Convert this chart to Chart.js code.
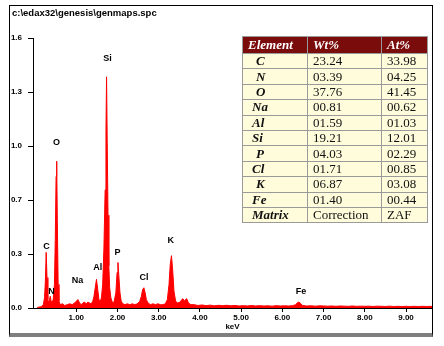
<!DOCTYPE html>
<html>
<head>
<meta charset="utf-8">
<script src="https://cdn.jsdelivr.net/npm/chart.js@4/dist/chart.umd.min.js"></script>
<style>
  html, body { margin: 0; padding: 0; background: #fff; }
  #wrap { position: relative; width: 444px; height: 346px; overflow: hidden; }
  #spectrum { position: absolute; left: 0; top: 0; }
  #frame {
    position: absolute; left: 9px; top: 5px; width: 422px; height: 327px;
    border-left: 1px solid #000; border-top: 1px solid #000; border-right: 1px solid #000;
    border-bottom: 4px solid #7f7f7f; pointer-events: none;
  }
  #fileName {
    position: absolute; left: 12px; top: 7px;
    font: bold 9.5px "Liberation Sans", Arial, sans-serif; color: #000; line-height: 12px;
  }
  #quant {
    position: absolute; left: 242px; top: 36px; width: 185px;
    border-collapse: collapse; table-layout: fixed;
    font: 13px "Liberation Serif", "Times New Roman", serif; color: #111;
    background: #fffcdc; border: 1px solid #8a8a8a;
  }
  #quant td, #quant th { border: 1px solid #9a9a9a; padding: 0 0 0 5px; text-align: left; line-height: 14px; white-space: nowrap; overflow: hidden; }
  #quant th { background: #7a0c0c; color: #fff; font-weight: bold; font-style: italic; height: 16px; }
  #quant td { height: 14.4px; }
  #quant td.el { font-weight: bold; font-style: italic; padding-left: 9px; }
  #quant td.el.one { padding-left: 13px; }
</style>
</head>
<body>
<div id="wrap">
  <canvas id="spectrum" width="444" height="346"></canvas>
  <div id="frame"></div>
  <div id="fileName">c:\edax32\genesis\genmaps.spc</div>
  <table id="quant">
    <colgroup><col style="width:65px"><col style="width:74px"><col style="width:46px"></colgroup>
    <thead><tr><th>Element</th><th>Wt%</th><th>At%</th></tr></thead>
    <tbody id="quantBody"></tbody>
  </table>
</div>
<script>
// === Spectrum (keV vs counts) ===
const energy = [
  0.05, 0.15, 0.20, 0.23, 0.25, 0.27, 0.29, 0.31, 0.33, 0.35, 0.37, 0.39, 0.41,
  0.44, 0.47, 0.49, 0.51, 0.525, 0.54, 0.56, 0.58, 0.61, 0.66, 0.72, 0.78, 0.84, 0.90, 0.96,
  1.00, 1.04, 1.08, 1.12, 1.16, 1.20, 1.24, 1.28, 1.32, 1.36, 1.40, 1.43, 1.46, 1.49, 1.52, 1.55, 1.58,
  1.61, 1.64, 1.67, 1.70, 1.72, 1.735, 1.75, 1.77, 1.79, 1.81, 1.84, 1.88, 1.92,
  1.96, 1.99, 2.01, 2.03, 2.06, 2.09, 2.13, 2.18, 2.24, 2.30, 2.36, 2.42, 2.48,
  2.54, 2.58, 2.61, 2.64, 2.67, 2.70, 2.74, 2.80, 2.86, 2.92, 2.98, 3.04, 3.10, 3.16,
  3.21, 3.25, 3.28, 3.31, 3.34, 3.37, 3.41, 3.46, 3.52, 3.56, 3.59, 3.62, 3.65, 3.68, 3.72, 3.78, 3.86,
  3.95, 4.05, 4.15, 4.25, 4.35, 4.45, 4.55, 4.65, 4.75, 4.85, 4.95, 5.05, 5.15, 5.25, 5.35, 5.45,
  5.55, 5.65, 5.75, 5.85, 5.95, 6.05, 6.15, 6.25, 6.32, 6.37, 6.40, 6.44, 6.49, 6.58, 6.70, 6.80, 6.90,
  7.00, 7.10, 7.20, 7.30, 7.40, 7.50, 7.60, 7.70, 7.80, 7.90, 8.00, 8.10, 8.20, 8.30, 8.40, 8.50,
  8.60, 8.70, 8.80, 8.90, 9.00, 9.10, 9.20, 9.30, 9.40, 9.50, 9.60, 9.63
];
const counts = [
  0.003, 0.008, 0.02, 0.06, 0.16, 0.33, 0.18, 0.05, 0.03, 0.05, 0.07, 0.04, 0.03,
  0.05, 0.14, 0.40, 0.78, 0.87, 0.52, 0.14, 0.04, 0.02, 0.025, 0.015, 0.02, 0.025, 0.02, 0.03,
  0.04, 0.05, 0.03, 0.02, 0.03, 0.035, 0.025, 0.035, 0.03, 0.025, 0.04, 0.07, 0.12, 0.17, 0.11, 0.05, 0.04,
  0.06, 0.14, 0.35, 0.70, 1.05, 1.37, 1.00, 0.55, 0.25, 0.12, 0.06, 0.03, 0.04,
  0.09, 0.21, 0.27, 0.20, 0.09, 0.04, 0.025, 0.02, 0.025, 0.02, 0.025, 0.02, 0.025,
  0.04, 0.07, 0.11, 0.12, 0.09, 0.05, 0.03, 0.02, 0.025, 0.02, 0.025, 0.02, 0.02, 0.025,
  0.05, 0.14, 0.26, 0.31, 0.22, 0.10, 0.04, 0.03, 0.035, 0.05, 0.055, 0.04, 0.05, 0.055, 0.03, 0.02, 0.02,
  0.015, 0.018, 0.014, 0.017, 0.013, 0.016, 0.014, 0.016, 0.013, 0.015, 0.012, 0.014, 0.012, 0.015, 0.012, 0.014,
  0.012, 0.013, 0.011, 0.014, 0.012, 0.013, 0.012, 0.014, 0.02, 0.032, 0.035, 0.028, 0.015, 0.012, 0.013, 0.011, 0.013,
  0.012, 0.011, 0.012, 0.010, 0.012, 0.011, 0.010, 0.012, 0.010, 0.011, 0.010, 0.011, 0.009, 0.011, 0.010, 0.009,
  0.011, 0.009, 0.010, 0.009, 0.010, 0.009, 0.010, 0.009, 0.010, 0.009, 0.010, 0.009
];

// === Peak labels ===
const peakNames  = ["C", "N", "O", "Na", "Al", "Si", "P", "Cl", "K", "Fe"];
const peakEnergy = [0.28, 0.40, 0.52, 1.03, 1.52, 1.76, 2.00, 2.64, 3.29, 6.45];
const peakLabelLevel = [0.367, 0.10, 0.978, 0.16, 0.237, 1.48, 0.326, 0.178, 0.397, 0.095];

// === Axes ===
const yTickValues = [0, 0.32, 0.64, 0.96, 1.28, 1.6];
const yTickLabels = ["0.0", "0.3", "0.7", "1.0", "1.3", "1.6"];
const xTickValues = [1, 2, 3, 4, 5, 6, 7, 8, 9];
const xTickLabels = ["1.00", "2.00", "3.00", "4.00", "5.00", "6.00", "7.00", "8.00", "9.00"];

// === Quantification table ===
const elements = ["C", "N", "O", "Na", "Al", "Si", "P", "Cl", "K", "Fe", "Matrix"];
const wtPct = ["23.24", "03.39", "37.76", "00.81", "01.59", "19.21", "04.03", "01.71", "06.87", "01.40", "Correction"];
const atPct = ["33.98", "04.25", "41.45", "00.62", "01.03", "12.01", "02.29", "00.85", "03.08", "00.44", "ZAF"];

const tbody = document.getElementById("quantBody");
elements.forEach((el, i) => {
  const cls = el.length === 1 ? "el one" : "el";
  tbody.innerHTML += `<tr><td class="${cls}">${el}</td><td>${wtPct[i]}</td><td>${atPct[i]}</td></tr>`;
});

const tickFont = { family: "'Liberation Sans', Arial, sans-serif", size: 8, weight: "bold" };

const peakLabels = {
  id: "peakLabels",
  afterDatasetsDraw(chart) {
    const { ctx, scales: { x, y } } = chart;
    ctx.save();
    ctx.fillStyle = "#000";
    ctx.font = "bold 9px 'Liberation Sans', Arial, sans-serif";
    ctx.textAlign = "center";
    ctx.textBaseline = "middle";
    peakNames.forEach((name, i) => {
      ctx.fillText(name, x.getPixelForValue(peakEnergy[i]), y.getPixelForValue(peakLabelLevel[i]));
    });
    ctx.restore();
  }
};

new Chart(document.getElementById("spectrum").getContext("2d"), {
  type: "line",
  data: {
    datasets: [{
      data: energy.map((e, i) => ({ x: e, y: counts[i] })),
      borderColor: "#ff0000",
      backgroundColor: "#ff0000",
      borderWidth: 1,
      fill: "origin",
      pointRadius: 0,
      tension: 0
    }]
  },
  options: {
    responsive: false,
    animation: false,
    devicePixelRatio: 1,
    layout: { padding: { top: 38, right: 12, left: 0, bottom: 0 } },
    plugins: { legend: { display: false }, tooltip: { enabled: false } },
    scales: {
      x: {
        type: "linear",
        min: -0.05,
        max: 9.63,
        afterBuildTicks: s => { s.ticks = xTickValues.map(v => ({ value: v })); },
        afterFit: s => { s.height = 38; },
        ticks: { color: "#000", font: tickFont, padding: 1, maxRotation: 0, autoSkip: false,
                 callback: (v, i) => xTickLabels[i] },
        grid: { drawOnChartArea: false, drawTicks: true, tickLength: 4, color: "#000" },
        border: { display: true, color: "#000", width: 1 },
        title: { display: true, text: "keV", color: "#000", font: tickFont, padding: { top: 0, bottom: 14 } }
      },
      y: {
        min: 0,
        max: 1.6,
        afterBuildTicks: s => { s.ticks = yTickValues.map(v => ({ value: v })); },
        afterFit: s => { s.width = 33; },
        ticks: { color: "#000", font: tickFont, padding: 6, autoSkip: false,
                 callback: (v, i) => yTickLabels[i] },
        grid: { drawOnChartArea: false, drawTicks: true, tickLength: 5, color: "#000" },
        border: { display: true, color: "#000", width: 1 }
      }
    }
  },
  plugins: [peakLabels]
});
</script>
</body>
</html>
